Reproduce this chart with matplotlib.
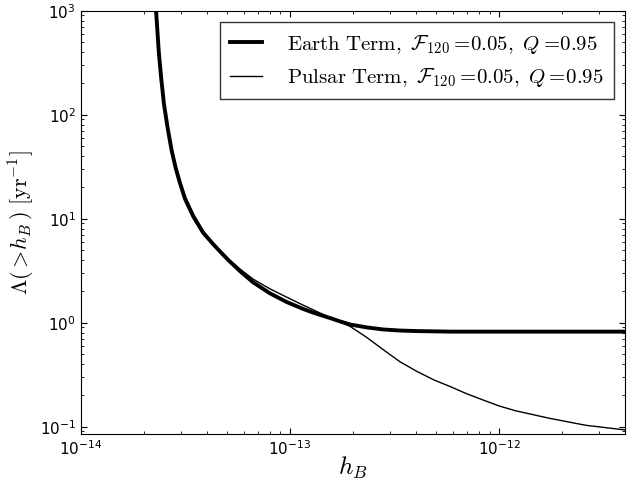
import matplotlib
matplotlib.use("Agg")
import matplotlib.pyplot as plt

# values
h_b = [2.27e-14, 2.29e-14, 2.36e-14, 2.42e-14, 2.50e-14, 2.60e-14, 2.72e-14,
       2.85e-14, 2.98e-14, 3.15e-14, 3.45e-14, 3.85e-14, 4.3e-14, 4.62e-14,
       5.07e-14, 5.8e-14, 6.67e-14, 8.0e-14, 9.64e-14, 1.15e-13, 1.29e-13,
       1.39e-13, 1.55e-13, 1.73e-13, 1.94e-13, 2.33e-13, 2.79e-13, 3.36e-13,
       4.04e-13, 4.9e-13, 5.83e-13, 7.0e-13, 8.4e-13, 1.0e-12, 1.2e-12,
       1.75e-12, 2.6e-12, 4.0e-12]
earth = [1300, 1000, 400, 230, 125, 75, 45,
         30, 22, 15.5, 10.5, 7.3, 5.67, 4.86,
         4.0, 3.1, 2.44, 1.92, 1.58, 1.36, 1.25,
         1.19, 1.11, 1.03, 0.96, 0.90, 0.86, 0.84,
         0.83, 0.825, 0.82, 0.82, 0.82, 0.82, 0.82,
         0.82, 0.82, 0.82]
pulsar = [1400, 1070, 430, 247, 134, 80, 48,
          32, 23.5, 16.5, 11.1, 7.6, 5.8, 4.92,
          4.1, 3.25, 2.62, 2.12, 1.76, 1.48, 1.33,
          1.24, 1.12, 1.02, 0.92, 0.72, 0.55, 0.42,
          0.34, 0.28, 0.243, 0.207, 0.18, 0.158, 0.142,
          0.12, 0.103, 0.093]

x_ticks = [1e-14, 1e-13, 1e-12]
y_ticks = [1e-1, 1e0, 1e1, 1e2, 1e3]

lab_e = r"$\mathrm{Earth\ Term,}\ \mathcal{F}_{120}=\!0.05,\ Q=\!0.95$"
lab_p = r"$\mathrm{Pulsar\ Term,}\ \mathcal{F}_{120}=\!0.05,\ Q=\!0.95$"

fig = plt.figure(figsize=(6.36, 4.86), dpi=100)
ax = fig.add_axes([0.127, 0.107, 0.856, 0.871])

ax.loglog(h_b, earth, color="black", lw=2.8, label=lab_e)
ax.loglog(h_b, pulsar, color="black", lw=1.0, label=lab_p)

ax.set_xticks(x_ticks)
ax.set_yticks(y_ticks)
ax.set_xlim(1e-14, 4e-12)
ax.set_ylim(0.085, 1e3)

ax.tick_params(which="both", direction="in", top=True, right=True, labelsize=11)
ax.tick_params(which="major", length=4)
ax.tick_params(which="minor", length=2)

ax.set_xlabel(r"$h_B$", fontsize=18, math_fontfamily="cm", labelpad=-2)
ax.set_ylabel(r"$\Lambda(>\!h_B\,)\ [\mathrm{yr}^{-1}]$", fontsize=16,
              math_fontfamily="cm", labelpad=2)

leg = ax.legend(loc="upper right", fontsize=15, fancybox=False,
                handlelength=1.5, handletextpad=1.2, borderpad=0.5,
                labelspacing=0.5, borderaxespad=0.55)
leg.get_frame().set_edgecolor("black")
leg.get_frame().set_linewidth(1.0)
for t in leg.get_texts():
    t.set_math_fontfamily("cm")

fig.savefig("out.png", dpi=100)
